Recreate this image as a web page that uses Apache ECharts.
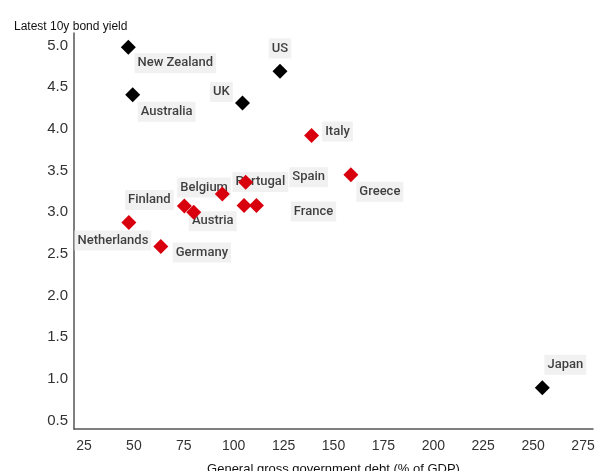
<!DOCTYPE html>
<html>
<head>
<meta charset="utf-8">
<script src="https://cdn.jsdelivr.net/npm/echarts@6/dist/echarts.min.js"></script>
<style>
  html, body { margin: 0; padding: 0; background: #fff; }
  #chart { width: 595px; height: 471px; }
</style>
</head>
<body>
<div id="chart"></div>
<script>
// Non-euro economies (black markers)
const otherNames = ['New Zealand', 'Australia', 'UK', 'US', 'Japan'];
const otherDebt  = [47.2, 49.4, 104.4, 123.2, 254.6];
const otherYield = [4.98, 4.41, 4.31, 4.69, 0.895];

// Euro area economies (red markers)
const euroNames = ['Italy', 'Greece', 'Spain', 'France', 'Belgium', 'Portugal', 'Finland', 'Austria', 'Netherlands', 'Germany'];
const euroDebt  = [139.0, 158.7, 106.0, 111.4, 105.2, 94.3, 75.3, 80.0, 47.5, 63.5];
const euroYield = [3.92, 3.45, 3.36, 3.08, 3.08, 3.22, 3.076, 3.0, 2.876, 2.59];

// Tick labels shown on each axis
const xTicks = [25, 50, 75, 100, 125, 150, 175, 200, 225, 250, 275];
const yTicks = [0.5, 1.0, 1.5, 2.0, 2.5, 3.0, 3.5, 4.0, 4.5, 5.0];

// Label placement (pixel offset of each label centre from its marker)
const labelOffset = {
  'New Zealand': [47, 16], 'Australia': [34, 17], 'UK': [-21, -11], 'US': [0, -23],
  'Japan': [23, -23], 'Italy': [26, -4], 'Greece': [29, 17], 'Spain': [63, -5],
  'France': [57, 6], 'Belgium': [-40, -18], 'Portugal': [38, -12],
  'Finland': [-35, -6], 'Austria': [19, 9], 'Netherlands': [-16, 18], 'Germany': [41, 6]
};

const FONT = 'Liberation Sans, Arial, sans-serif';

function points(names, xs, ys) {
  return names.map((n, i) => ({ name: n, value: [xs[i], ys[i]] }));
}
function labelPoints(names, xs, ys) {
  return names.map((n, i) => ({
    name: n,
    value: [xs[i], ys[i]],
    label: { offset: labelOffset[n] }
  }));
}

const near = (v, list) => list.some(t => Math.abs(v - t) < 1e-6);

const labelStyle = {
  show: true,
  position: 'inside',
  formatter: p => p.name,
  color: '#111',
  fontFamily: 'Roboto, Liberation Sans, sans-serif',
  fontWeight: 500,
  fontSize: 13,
  backgroundColor: '#ededed',
  padding: [4, 3, 3, 3],
  align: 'center',
  verticalAlign: 'middle'
};

const allNames = otherNames.concat(euroNames);
const allDebt = otherDebt.concat(euroDebt);
const allYield = otherYield.concat(euroYield);

const chart = echarts.init(document.getElementById('chart'), null, { renderer: 'canvas' });
chart.setOption({
  animation: false,
  backgroundColor: '#fff',
  title: {
    text: 'Latest 10y bond yield',
    left: 9,
    top: 16,
    textStyle: { fontSize: 12, fontWeight: 'normal', color: '#111', fontFamily: FONT }
  },
  grid: { left: 74, right: 2, top: 33, bottom: 42, containLabel: false, outerBoundsMode: 'none' },
  xAxis: {
    type: 'value',
    min: 20, max: 280, interval: 5,
    name: 'General gross government debt (% of GDP)',
    nameLocation: 'middle',
    nameGap: 34,
    nameTextStyle: { fontSize: 13, color: '#111', fontFamily: FONT },
    axisLine: { show: true, lineStyle: { color: '#555', width: 1.5 } },
    axisTick: { show: false },
    splitLine: { show: false },
    axisLabel: {
      margin: 10, fontSize: 14, color: '#333', fontFamily: FONT,
      formatter: v => near(v, xTicks) ? String(Math.round(v)) : ''
    }
  },
  yAxis: {
    type: 'value',
    min: 0.4, max: 5.15, interval: 0.05,
    axisLine: { show: true, lineStyle: { color: '#555', width: 1.5 } },
    axisTick: { show: false },
    splitLine: { show: false },
    axisLabel: {
      margin: 6, fontSize: 15, color: '#333', fontFamily: FONT,
      formatter: v => near(v, yTicks) ? v.toFixed(1) : ''
    }
  },
  series: [
    {
      // country name tags, drawn beneath the markers
      name: 'Labels',
      type: 'scatter',
      z: 1,
      symbolSize: 0,
      silent: true,
      label: labelStyle,
      data: labelPoints(allNames, allDebt, allYield)
    },
    {
      name: 'Other',
      type: 'scatter',
      z: 3,
      symbol: 'diamond',
      symbolSize: 15,
      itemStyle: { color: '#000', opacity: 1 },
      data: points(otherNames, otherDebt, otherYield)
    },
    {
      name: 'Euro area',
      type: 'scatter',
      z: 3,
      symbol: 'diamond',
      symbolSize: 15,
      itemStyle: { color: '#d9000d', opacity: 1 },
      data: points(euroNames, euroDebt, euroYield)
    }
  ]
});
</script>
</body>
</html>
